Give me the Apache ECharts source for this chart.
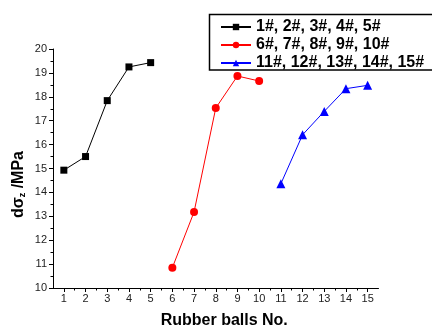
<!DOCTYPE html>
<html>
<head>
<meta charset="utf-8">
<script src="https://cdn.jsdelivr.net/npm/echarts@6/dist/echarts.min.js"></script>
<style>html,body{margin:0;padding:0;background:#fff}#c{width:432px;height:328px}</style>
</head>
<body>
<div id="c"></div>
<script>
var seriesNames = ['1#, 2#, 3#, 4#, 5#', '6#, 7#, 8#, 9#, 10#', '11#, 12#, 13#, 14#, 15#'];
var xBlack = [1, 2, 3, 4, 5];
var yBlack = [14.93, 15.50, 17.84, 19.25, 19.43];
var xRed = [6, 7, 8, 9, 10];
var yRed = [10.85, 13.18, 17.53, 18.87, 18.66];
var xBlue = [11, 12, 13, 14, 15];
var yBlue = [14.36, 16.41, 17.39, 18.34, 18.48];
var xTicks = [1,2,3,4,5,6,7,8,9,10,11,12,13,14,15];
var xMinorTicks = [1.5,2.5,3.5,4.5,5.5,6.5,7.5,8.5,9.5,10.5,11.5,12.5,13.5,14.5];

function pairs(xs, ys){ return xs.map(function(x,i){ return [x, ys[i]]; }); }

var chart = echarts.init(document.getElementById('c'), null, {renderer:'canvas'});
var font = 'Arial, "Liberation Sans", sans-serif';
chart.setOption({
  animation: false,
  grid: {left: 53, right: 53.5, top: 49, bottom: 40, containLabel: false, outerBoundsMode: 'none'},
  graphic: [{
    type: 'polyline', z: 10, silent: true,
    shape: {points: [[445, 14.5], [209.5, 14.5], [209.5, 70], [445, 70]]},
    style: {fill: null, stroke: '#000', lineWidth: 1.5}
  }],
  legend: {
    orient: 'vertical', left: 210, top: 15,
    borderWidth: 0,
    padding: [4, 5, 2, 10],
    itemWidth: 30, itemHeight: 8, itemGap: 2,
    textStyle: {fontFamily: font, fontWeight: 'bold', fontSize: 16, color: '#000', lineHeight: 16},
    data: seriesNames
  },
  xAxis: [{
    type: 'value', min: 0.5, max: 15.5, interval: 0.5,
    splitLine: {show: false},
    axisLine: {lineStyle: {color: '#000', width: 1}},
    axisTick: {show: true, length: 4, inside: false, customValues: xTicks, lineStyle: {color: '#000'}},
    axisLabel: {customValues: xTicks, fontFamily: font, fontSize: 11, color: '#222', margin: 5},
    name: 'Rubber balls No.', nameLocation: 'middle', nameGap: 25, nameMoveOverlap: false,
    nameTextStyle: {fontFamily: font, fontWeight: 'bold', fontSize: 16, color: '#000', padding: [0,0,0,17]}
  }, {
    type: 'value', min: 0.5, max: 15.5, interval: 0.5, position: 'bottom',
    splitLine: {show: false},
    axisLine: {show: false},
    axisTick: {show: true, length: 2.5, customValues: xMinorTicks, lineStyle: {color: '#000'}},
    axisLabel: {show: false}
  }],
  yAxis: {
    type: 'value', min: 10, max: 20, interval: 1,
    splitLine: {show: false},
    axisLine: {show: true, lineStyle: {color: '#000', width: 1}},
    axisTick: {show: true, length: 4, lineStyle: {color: '#000'}},
    minorTick: {show: true, splitNumber: 2, length: 2.5, lineStyle: {color: '#000'}},
    axisLabel: {fontFamily: font, fontSize: 11, color: '#222', margin: 6},
    name: '{a|dσ}{s|z}{a| /MPa}', nameLocation: 'middle', nameGap: 26, nameRotate: 90, nameMoveOverlap: false,
    nameTextStyle: {
      fontFamily: font, fontWeight: 'bold', fontSize: 16, color: '#000', padding: [0,0,0,-32],
      rich: {
        a: {fontFamily: font, fontWeight: 'bold', fontSize: 16, color: '#000'},
        s: {fontFamily: font, fontWeight: 'bold', fontSize: 9, color: '#000', padding: [8,0,0,0]}
      }
    }
  },
  series: [
    {name: seriesNames[0], type: 'line', data: pairs(xBlack, yBlack), symbol: 'rect', symbolSize: 7,
     lineStyle: {color: '#000', width: 1}, itemStyle: {color: '#000'}},
    {name: seriesNames[1], type: 'line', data: pairs(xRed, yRed), symbol: 'circle', symbolSize: 8,
     lineStyle: {color: '#ff0000', width: 1}, itemStyle: {color: '#ff0000'}},
    {name: seriesNames[2], type: 'line', data: pairs(xBlue, yBlue), symbol: 'triangle', symbolSize: 9,
     lineStyle: {color: '#0000ff', width: 1}, itemStyle: {color: '#0000ff'}}
  ]
});
</script>
</body>
</html>
